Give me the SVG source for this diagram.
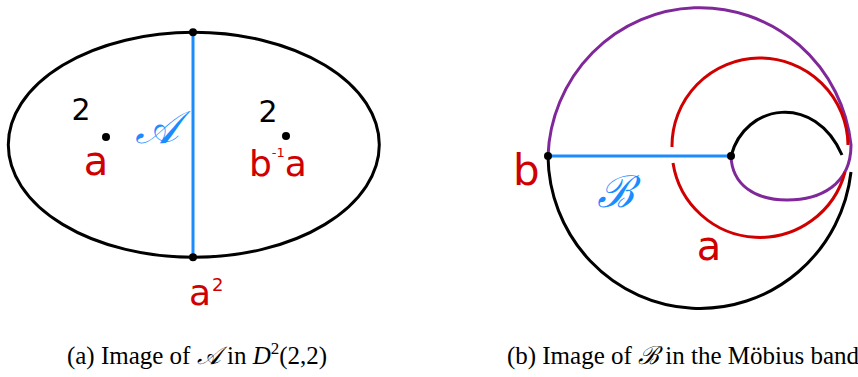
<svg xmlns="http://www.w3.org/2000/svg" width="858" height="377" viewBox="0 0 858 377">
<style>
.k{fill:none;stroke:#000;stroke-width:3}
.r{fill:none;stroke:#d00000;stroke-width:3}
.bl{fill:none;stroke:#1a8cff;stroke-width:3}
.p{fill:none;stroke:#80289a;stroke-width:3}
.dot{fill:#000}
.hw{font-family:"DejaVu Sans",sans-serif}
.red{fill:#d00000}
.blue{fill:#1a8cff}
.cap{font-family:"Liberation Serif","DejaVu Serif",serif;font-size:25px;fill:#000}
</style>
<rect width="858" height="377" fill="#fff"/>
<g id="left-figure">
  <g id="disk"><ellipse class="k" cx="193.8" cy="144.8" rx="185.5" ry="112.5"/></g>
  <g id="connectors-left"><line class="bl" x1="193" y1="32.3" x2="193" y2="257.3"/></g>
  <g id="top-vertex"><circle class="dot" cx="193" cy="32.3" r="4"/></g>
  <g id="bottom-vertex"><circle class="dot" cx="193" cy="257.3" r="4"/>
    <text class="hw red" x="189" y="305" font-size="36">a<tspan font-size="18" dx="1" dy="-14">2</tspan></text></g>
  <g id="cone-left"><circle class="dot" cx="106" cy="137" r="4"/>
    <text class="hw" x="81" y="120" font-size="30" text-anchor="middle">2</text>
    <text class="hw red" x="96" y="175" font-size="40" text-anchor="middle">a</text></g>
  <g id="cone-right"><circle class="dot" cx="286" cy="136" r="4"/>
    <text class="hw" x="268" y="122" font-size="30" text-anchor="middle">2</text>
    <text class="hw red" x="249" y="176" font-size="36">b<tspan font-size="13" dy="-19">-1</tspan><tspan dy="19">a</tspan></text></g>
  <g id="label-A"><text class="blue" x="157" y="143" font-size="46" text-anchor="middle" font-family="'DejaVu Serif','Liberation Serif',serif" font-style="italic">𝒜</text></g>
</g>
<g id="right-figure">
  <g id="connectors">
    <path class="p" d="M548,156 A152,154 0 0 1 851,145 C851,185 820,200 787,200 C755,200 732,185 731,156"/>
    <path class="k" d="M548,156 A152,154 0 0 0 851,172"/>
    <path class="k" d="M731,156 C745,103 815,93 842,155"/>
    <path class="r" d="M672,147 A88,88 0 0 1 848,145"/>
    <path class="r" d="M845,172 A88,88 0 0 1 673,163"/>
    <line class="bl" x1="548" y1="156" x2="731" y2="156"/>
  </g>
  <g id="vertex-b"><circle class="dot" cx="548" cy="156" r="4"/>
    <text class="hw red" x="513" y="185" font-size="42">b</text></g>
  <g id="vertex-center"><circle class="dot" cx="731" cy="156" r="4"/></g>
  <g id="label-B"><text class="blue" x="615" y="207" font-size="44" text-anchor="middle" font-family="'DejaVu Serif','Liberation Serif',serif" font-style="italic">ℬ</text></g>
  <g id="label-a"><text class="hw red" x="709" y="260" font-size="40" text-anchor="middle">a</text></g>
</g>
<g id="captions">
  <text class="cap" x="197" y="364" text-anchor="middle">(a) Image of <tspan font-style="italic">𝒜</tspan> in <tspan font-style="italic">D</tspan><tspan font-size="17" dy="-10">2</tspan><tspan dy="10">(2,2)</tspan></text>
  <text class="cap" x="683" y="364" text-anchor="middle">(b) Image of <tspan font-style="italic">ℬ</tspan> in the Möbius band</text>
</g>
</svg>
